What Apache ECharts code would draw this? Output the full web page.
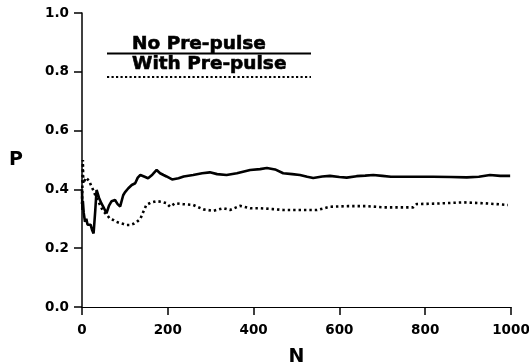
<!DOCTYPE html>
<html><head><meta charset="utf-8">
<script src="https://cdn.jsdelivr.net/npm/echarts@6/dist/echarts.min.js"></script>
<style>html,body{margin:0;padding:0;background:#fff}#c{width:529px;height:364px}</style>
</head><body><div id="c"></div>
<script>
var seriesNames = ['No Pre-pulse', 'With Pre-pulse'];
var xTicks = [0, 200, 400, 600, 800, 1000];
var yTicks = [0.0, 0.2, 0.4, 0.6, 0.8, 1.0];
var noPrePulse = [
  [0,0.40],[1,0.33],[2,0.36],[4,0.32],[7,0.29],[10,0.30],[13,0.28],[16,0.274],[20,0.28],[24,0.26],
  [27,0.25],[31,0.33],[34,0.398],[40,0.37],[45,0.353],[50,0.34],[57,0.319],[63,0.345],[69,0.36],[77,0.364],
  [83,0.35],[89,0.342],[96,0.38],[100,0.39],[108,0.404],[116,0.415],[124,0.421],[130,0.44],[136,0.449],[146,0.443],
  [154,0.438],[164,0.45],[174,0.466],[182,0.455],[190,0.449],[197,0.444],[210,0.434],[225,0.438],[237,0.444],[259,0.449],
  [280,0.455],[298,0.458],[315,0.452],[337,0.449],[361,0.455],[392,0.466],[415,0.469],[431,0.473],[450,0.468],[469,0.455],
  [490,0.452],[508,0.449],[525,0.443],[539,0.439],[560,0.444],[578,0.446],[600,0.442],[617,0.44],[640,0.445],[660,0.447],
  [679,0.449],[700,0.446],[720,0.443],[741,0.443],[780,0.443],[818,0.443],[860,0.442],[897,0.441],[925,0.443],[951,0.449],
  [975,0.446],[998,0.446]
];
var withPrePulse = [
  [0,0.35],[2,0.50],[3,0.42],[6,0.43],[9,0.44],[12,0.438],[16,0.43],[19,0.425],[26,0.398],[34,0.37],
  [42,0.347],[48,0.33],[54,0.319],[60,0.31],[65,0.30],[73,0.296],[80,0.29],[89,0.285],[97,0.282],[104,0.279],
  [112,0.279],[120,0.283],[128,0.29],[136,0.30],[143,0.324],[150,0.347],[160,0.355],[174,0.36],[185,0.358],[197,0.353],
  [205,0.341],[217,0.353],[235,0.35],[259,0.347],[283,0.332],[306,0.327],[329,0.336],[345,0.33],[368,0.344],[392,0.336],
  [415,0.336],[445,0.333],[469,0.33],[500,0.33],[531,0.33],[548,0.33],[578,0.341],[620,0.343],[664,0.343],[702,0.339],
  [740,0.339],[772,0.339],[780,0.35],[830,0.352],[889,0.356],[935,0.353],[965,0.35],[993,0.347]
];

var chart = echarts.init(document.getElementById('c'), null, {renderer:'canvas'});
var fontFam = '"DejaVu Sans", "Liberation Sans", Arial, sans-serif';
chart.setOption({
  animation:false,
  backgroundColor:'#fff',
  grid:{left:82,right:18,top:13,bottom:57,containLabel:false,outerBoundsMode:'none'},
  xAxis:{
    type:'value',min:0,max:1000,interval:200,
    name:'N',nameLocation:'middle',nameGap:41,
    nameTextStyle:{fontFamily:fontFam,fontWeight:'bold',fontSize:19,color:'#000'},
    axisLine:{lineStyle:{color:'#000',width:1}},
    axisTick:{length:8,lineStyle:{color:'#000',width:1.5}},
    axisLabel:{fontFamily:fontFam,fontWeight:'bold',fontSize:13.5,color:'#000',margin:16,
      formatter:function(v){return xTicks.indexOf(v)>=0?String(v):'';}},
    splitLine:{show:false}
  },
  yAxis:{
    type:'value',min:0,max:1,interval:0.2,
    name:'P',nameLocation:'middle',nameGap:59,nameRotate:0,
    nameTextStyle:{fontFamily:fontFam,fontWeight:'bold',fontSize:19,color:'#000',padding:[0,0,10,0]},
    axisLine:{lineStyle:{color:'#000',width:1.5}},
    axisTick:{length:8,lineStyle:{color:'#000',width:1.5}},
    axisLabel:{fontFamily:fontFam,fontWeight:'bold',fontSize:13.5,color:'#000',margin:13,
      formatter:function(v){return v.toFixed(1);}},
    splitLine:{show:false}
  },
  graphic:[
    {type:'text',x:132,y:35,style:{text:seriesNames[0],font:'bold 18.5px '+fontFam,fill:'#000',stroke:'#000',lineWidth:0.6}},
    {type:'line',shape:{x1:107,y1:53.5,x2:311,y2:53.5},style:{stroke:'#000',lineWidth:2}},
    {type:'text',x:132,y:55,style:{text:seriesNames[1],font:'bold 18.5px '+fontFam,fill:'#000',stroke:'#000',lineWidth:0.6}},
    {type:'line',shape:{x1:107,y1:77,x2:311,y2:77},style:{stroke:'#000',lineWidth:2.2,lineDash:[2.2,2.3]}}
  ],
  series:[
    {name:seriesNames[0],type:'line',data:noPrePulse,showSymbol:false,smooth:false,
      lineStyle:{color:'#000',width:2.6}},
    {name:seriesNames[1],type:'line',data:withPrePulse,showSymbol:false,smooth:false,
      lineStyle:{color:'#000',width:2.6,type:[2.4,3]}}
  ]
});
</script></body></html>
